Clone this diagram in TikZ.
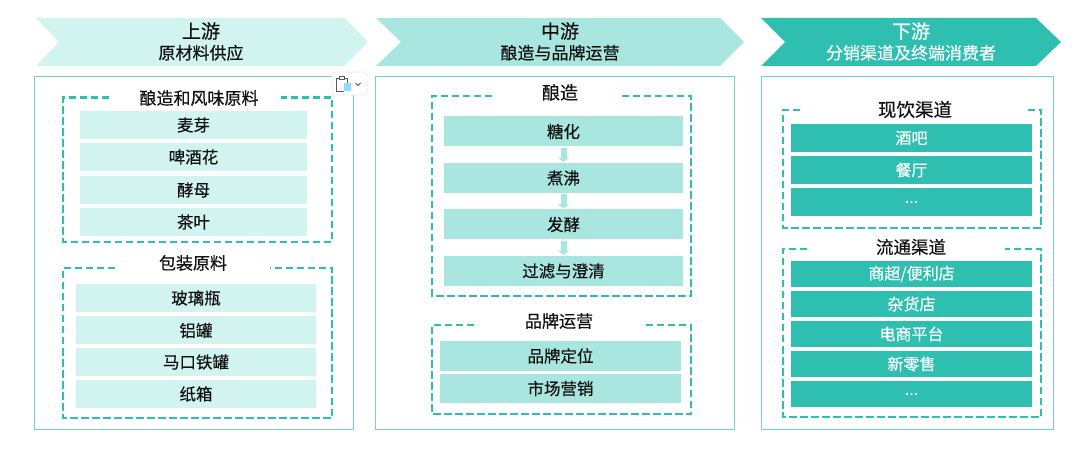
\documentclass[tikz,border=0pt]{standalone}
\usepackage{fontspec}
\setmainfont[FakeBold=0.35]{Noto Sans CJK SC}
\usetikzlibrary{arrows.meta}
\definecolor{cLight}{HTML}{D2F4F0}
\definecolor{cMid}{HTML}{A8E6DF}
\definecolor{cDark}{HTML}{2FBFB0}
\definecolor{cPanel}{HTML}{76D2C8}
\definecolor{cText}{HTML}{111111}
\newcommand{\tdots}{...}
\newcommand{\shangchao}{商超/便利店}
\tikzset{
  panelbox/.style={draw=cPanel,line width=1pt,fill=white},
  dashframe/.style={draw=cDark,line width=2.6pt,dash pattern=on 7.5pt off 3.5pt},
  itembox/.style={inner sep=0pt,font=\fontsize{16.5}{18}\selectfont,text=cText},
  lightitem/.style={itembox,fill=cLight},
  miditem/.style={itembox,fill=cMid},
  darkitem/.style={itembox,fill=cDark,text=white,font=\fontsize{16}{18}\selectfont},
  frametitle/.style={inner sep=0pt,font=\fontsize{17}{20}\selectfont,text=cText},
  headtext/.style={inner sep=0pt,align=center,text=cText,font=\fontsize{17}{21}\selectfont},
  flowarrow/.style={draw=cMid,line width=6pt,-{Triangle[width=12pt,length=4pt]},shorten >=1pt,shorten <=1pt},
}
\begin{document}
\begin{tikzpicture}[x=1pt,y=-1pt]
\useasboundingbox (0,0) rectangle (1080,449);
% header chevrons
\fill[cLight] (36,18) -- (344,18) -- (368,42) -- (344,66) -- (36,66) -- (59,42) -- cycle;
\fill[cMid] (376,18) -- (720,18) -- (744,42) -- (720,66) -- (376,66) -- (401,42) -- cycle;
\fill[cDark] (761,18) -- (1036,18) -- (1061,42) -- (1036,66) -- (761,66) -- (785,42) -- cycle;
\node[headtext] (h1) at (201,41.5) {{\fontsize{19}{21}\selectfont 上游}\\原材料供应};
\node[headtext] (h2) at (560,41.5) {{\fontsize{19}{21}\selectfont 中游}\\酿造与品牌运营};
\node[headtext,text=white] (h3) at (911,41.5) {{\fontsize{19}{21}\selectfont 下游}\\分销渠道及终端消费者};
% panels
\draw[panelbox] (34.5,77) rectangle (353,429);
\draw[panelbox] (375.5,77) rectangle (734,429);
\draw[panelbox] (761,77) rectangle (1053,429);
% upstream: frame 1
\draw[dashframe] (109,97.5) -- (63,97.5) -- (63,242) -- (332,242) -- (332,97.5) -- (281,97.5);
\node[frametitle] (t1) at (199,98) {酿造和风味原料};
\foreach \nm/\yy/\txt in {a1/125/麦芽,a2/157/啤酒花,a3/190/酵母,a4/222/茶叶}
  \node[lightitem,minimum width=227pt,minimum height=28pt] (\nm) at (193.5,\yy) {\txt};
% upstream: frame 2
\draw[dashframe] (115,268) -- (63,268) -- (63,418) -- (332,418) -- (332,268) -- (270,268);
\node[frametitle] (t2) at (193,263) {包装原料};
\foreach \nm/\yy/\txt in {b1/298/玻璃瓶,b2/330.5/铝罐,b3/362/马口铁罐,b4/394/纸箱}
  \node[lightitem,minimum width=240pt,minimum height=28pt] (\nm) at (196,\yy) {\txt};
% midstream: frame 1
\draw[dashframe] (492,96) -- (432,96) -- (432,296) -- (691,296) -- (691,96) -- (622,96);
\node[frametitle,font=\fontsize{18}{20}\selectfont] (t3) at (560,92.5) {酿造};
\foreach \nm/\yy/\txt in {c1/131.5/糖化,c2/178/煮沸,c3/224.5/发酵,c4/271/过滤与澄清}
  \node[miditem,minimum width=239pt,minimum height=30pt] (\nm) at (563.5,\yy) {\txt};
\draw[flowarrow] (c1) -- (c2);
\draw[flowarrow] (c2) -- (c3);
\draw[flowarrow] (c3) -- (c4);
% midstream: frame 2
\draw[dashframe] (474,325) -- (432,325) -- (432,414) -- (691,414) -- (691,325) -- (645,325);
\node[frametitle] (t4) at (559,321) {品牌运营};
\foreach \nm/\yy/\txt in {d1/356/品牌定位,d2/388.5/市场营销}
  \node[miditem,minimum width=241pt,minimum height=29.5pt] (\nm) at (560.5,\yy) {\txt};
% downstream: frame 1
\draw[dashframe] (800,110) -- (783,110) -- (783,228) -- (1041,228) -- (1041,110) -- (1025,110);
\node[frametitle,font=\fontsize{18.5}{20}\selectfont] (t5) at (915,109.5) {现饮渠道};
\foreach \nm/\yy/\txt in {e1/138/酒吧,e2/170/餐厅,e3/202/\tdots}
  \node[darkitem,minimum width=241pt,minimum height=28pt] (\nm) at (911.5,\yy) {\txt};
% downstream: frame 2
\draw[dashframe] (807,249) -- (783,249) -- (783,417) -- (1041,417) -- (1041,249) -- (1005,249);
\node[frametitle,font=\fontsize{17.5}{20}\selectfont] (t6) at (911,247) {流通渠道};
\foreach \nm/\yy/\txt in {f1/274/\shangchao,f2/304/杂货店,f3/334/电商平台,f4/364/新零售,f5/394/\tdots}
  \node[darkitem,minimum width=241pt,minimum height=26pt] (\nm) at (911.5,\yy) {\txt};
% paste-options widget
\draw[draw=black!8,fill=white,line width=0.8pt,rounded corners=3pt] (332,72) rectangle (367,95);
\fill[blue!30!cyan!45!white] (344,83) rectangle (351,91);
\draw[black!65,line width=0.9pt] (339,78) -- (336,78) -- (336,91) -- (344,91);
\draw[black!65,line width=0.9pt] (344,78) -- (347,78) -- (347,83);
\draw[black!65,line width=0.9pt] (339,79) rectangle (344,76.5);
\draw[black!65,line width=1pt] (355.5,83) -- (358,85.5) -- (360.5,83);
\end{tikzpicture}
\end{document}
